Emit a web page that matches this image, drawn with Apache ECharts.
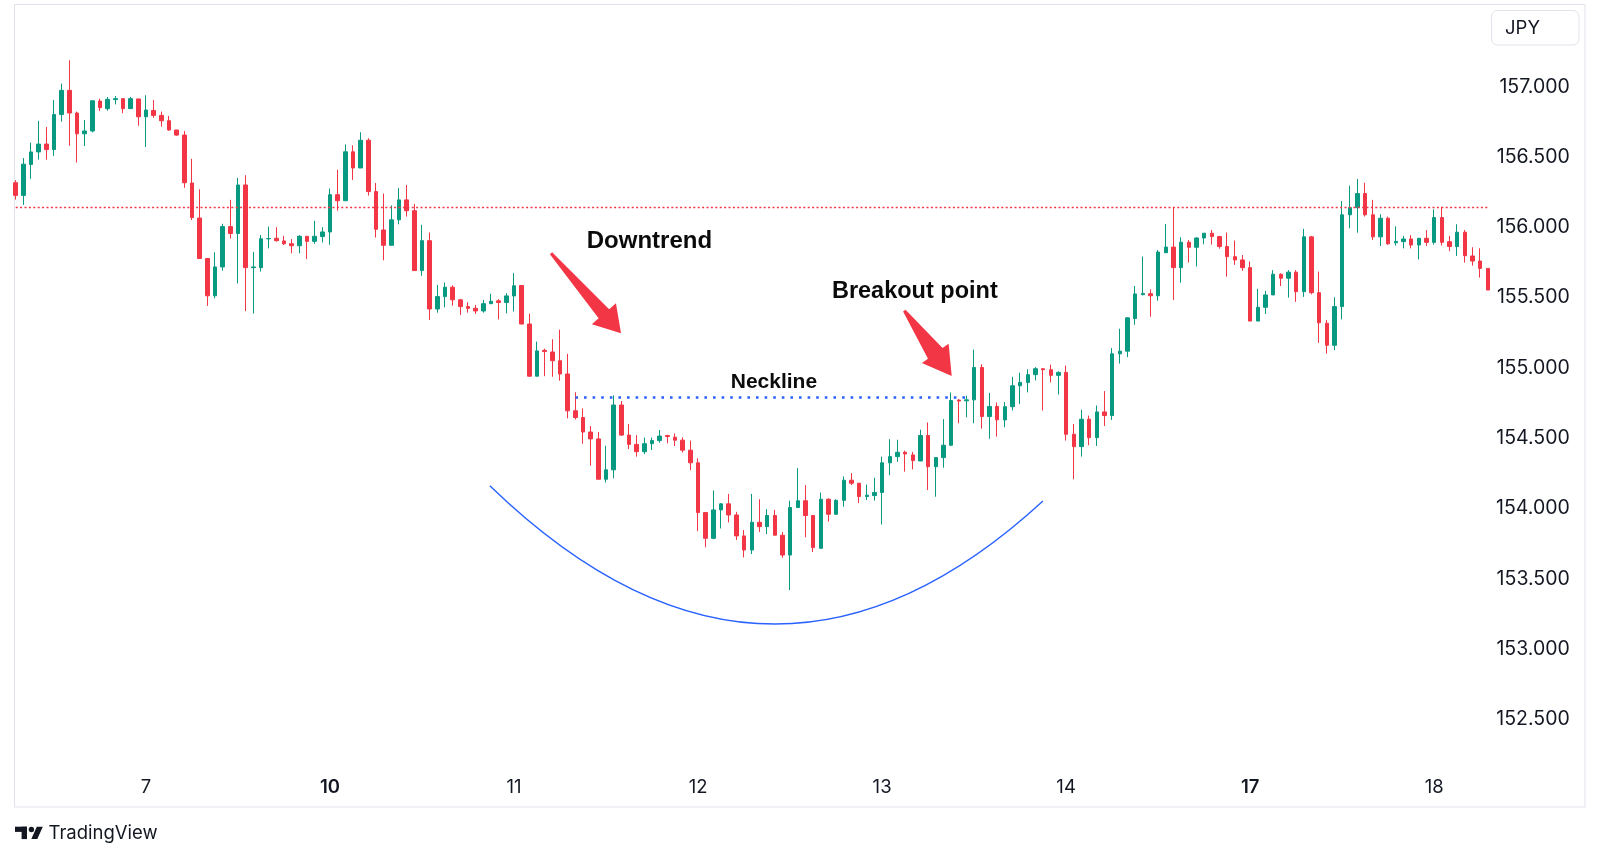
<!DOCTYPE html>
<html>
<head>
<meta charset="utf-8">
<title>JPY hourly candles – rounding bottom</title>
<script src="https://cdn.jsdelivr.net/npm/echarts@6/dist/echarts.min.js"></script>
<style>
  html, body { margin: 0; padding: 0; background: #ffffff; }
  #chart { width: 1600px; height: 859px; }
</style>
</head>
<body>
<div id="chart"></div>
<script>
// hourly candles (one value per candle)
const OPEN = [
  156.317, 156.227, 156.447, 156.536, 156.592, 156.553, 156.802, 156.974, 156.813, 156.665,
  156.685, 156.898, 156.844, 156.908, 156.915, 156.844, 156.913, 156.786, 156.831, 156.796,
  156.758, 156.692, 156.656, 156.315, 156.066, 155.778, 155.513, 155.718, 156.005, 155.956,
  156.301, 155.713, 155.713, 155.918, 155.922, 155.903, 155.883, 155.869, 155.936, 155.900,
  155.934, 155.967, 156.232, 156.189, 156.537, 156.422, 156.619, 156.254, 155.981, 155.872,
  156.053, 156.195, 156.118, 155.692, 155.905, 155.419, 155.507, 155.574, 155.484, 155.436,
  155.424, 155.405, 155.457, 155.477, 155.465, 155.512, 155.586, 155.312, 154.941, 155.125,
  155.113, 155.051, 154.957, 154.695, 154.647, 154.544, 154.495, 154.208, 154.275, 154.736,
  154.522, 154.456, 154.404, 154.461, 154.483, 154.519, 154.507, 154.486, 154.415, 154.325,
  153.971, 153.788, 153.990, 154.033, 153.954, 153.805, 153.705, 153.902, 153.871, 153.950,
  153.810, 153.669, 154.007, 154.055, 153.950, 153.717, 154.066, 153.959, 154.058, 154.201,
  154.180, 154.085, 154.092, 154.114, 154.325, 154.369, 154.400, 154.381, 154.338, 154.519,
  154.297, 154.362, 154.450, 154.771, 154.766, 154.773, 155.003, 154.654, 154.726, 154.630,
  154.724, 154.873, 154.897, 154.952, 154.994, 154.987, 154.947, 154.968, 154.528, 154.440,
  154.635, 154.504, 154.687, 154.661, 155.100, 155.119, 155.351, 155.521, 155.528, 155.513,
  155.819, 155.859, 155.713, 155.894, 155.858, 155.924, 155.958, 155.934, 155.863, 155.791,
  155.768, 155.713, 155.333, 155.431, 155.519, 155.666, 155.638, 155.681, 155.542, 155.932,
  155.535, 155.318, 155.161, 155.436, 156.089, 156.140, 156.240, 156.089, 155.932, 156.064,
  155.890, 155.898, 155.917, 155.874, 155.922, 155.893, 156.069, 155.898, 155.863, 155.965,
  155.796, 155.760, 155.708
];
const CLOSE = [
  156.227, 156.449, 156.536, 156.592, 156.553, 156.802, 156.974, 156.813, 156.665, 156.685,
  156.900, 156.851, 156.910, 156.915, 156.844, 156.915, 156.786, 156.834, 156.796, 156.758,
  156.692, 156.656, 156.317, 156.069, 155.778, 155.513, 155.718, 156.005, 155.956, 156.301,
  155.713, 155.718, 155.918, 155.920, 155.905, 155.883, 155.869, 155.936, 155.900, 155.936,
  155.967, 156.232, 156.189, 156.537, 156.422, 156.619, 156.254, 155.986, 155.872, 156.053,
  156.195, 156.118, 155.692, 155.905, 155.419, 155.507, 155.574, 155.484, 155.436, 155.424,
  155.405, 155.457, 155.474, 155.465, 155.512, 155.584, 155.312, 154.941, 155.121, 155.116,
  155.051, 154.957, 154.695, 154.647, 154.544, 154.495, 154.208, 154.275, 154.736, 154.522,
  154.456, 154.404, 154.461, 154.483, 154.515, 154.512, 154.486, 154.415, 154.325, 153.971,
  153.788, 153.990, 154.033, 153.954, 153.805, 153.705, 153.902, 153.871, 153.950, 153.810,
  153.669, 154.007, 154.055, 153.950, 153.722, 154.066, 153.959, 154.058, 154.201, 154.180,
  154.085, 154.095, 154.114, 154.325, 154.369, 154.400, 154.388, 154.341, 154.519, 154.297,
  154.362, 154.450, 154.768, 154.764, 154.773, 155.003, 154.654, 154.726, 154.631, 154.724,
  154.873, 154.897, 154.952, 154.994, 154.987, 154.947, 154.968, 154.528, 154.440, 154.635,
  154.504, 154.687, 154.661, 155.100, 155.119, 155.356, 155.526, 155.530, 155.513, 155.824,
  155.859, 155.713, 155.894, 155.858, 155.924, 155.958, 155.934, 155.863, 155.791, 155.768,
  155.713, 155.333, 155.431, 155.519, 155.666, 155.638, 155.681, 155.542, 155.932, 155.535,
  155.321, 155.161, 155.436, 156.089, 156.140, 156.240, 156.089, 155.932, 156.064, 155.883,
  155.900, 155.917, 155.874, 155.922, 155.893, 156.069, 155.893, 155.863, 155.965, 155.798,
  155.760, 155.708, 155.554
];
const LOW = [
  156.197, 156.159, 156.345, 156.481, 156.481, 156.508, 156.751, 156.580, 156.460, 156.578,
  156.675, 156.827, 156.829, 156.874, 156.811, 156.844, 156.722, 156.571, 156.779, 156.716,
  156.687, 156.651, 156.281, 156.052, 155.778, 155.441, 155.495, 155.691, 155.920, 155.601,
  155.404, 155.387, 155.685, 155.850, 155.898, 155.874, 155.815, 155.815, 155.774, 155.883,
  155.893, 155.876, 156.118, 156.189, 156.337, 156.422, 156.226, 155.927, 155.765, 155.872,
  156.021, 156.076, 155.692, 155.655, 155.341, 155.393, 155.431, 155.443, 155.376, 155.393,
  155.384, 155.393, 155.453, 155.345, 155.388, 155.401, 155.312, 154.937, 154.941, 154.941,
  154.937, 154.909, 154.641, 154.633, 154.461, 154.304, 154.208, 154.186, 154.215, 154.517,
  154.422, 154.369, 154.387, 154.416, 154.468, 154.463, 154.444, 154.399, 154.273, 153.839,
  153.724, 153.781, 153.858, 153.901, 153.776, 153.652, 153.676, 153.833, 153.818, 153.810,
  153.650, 153.420, 154.007, 153.795, 153.691, 153.717, 153.907, 153.954, 154.013, 154.167,
  154.038, 154.061, 154.056, 153.886, 154.237, 154.332, 154.262, 154.278, 154.338, 154.131,
  154.084, 154.290, 154.444, 154.606, 154.649, 154.606, 154.568, 154.496, 154.511, 154.578,
  154.697, 154.744, 154.826, 154.911, 154.697, 154.897, 154.811, 154.483, 154.208, 154.369,
  154.450, 154.445, 154.587, 154.630, 155.031, 155.076, 155.307, 155.516, 155.364, 155.478,
  155.819, 155.483, 155.606, 155.749, 155.721, 155.879, 155.877, 155.848, 155.649, 155.733,
  155.690, 155.333, 155.333, 155.384, 155.519, 155.582, 155.500, 155.470, 155.505, 155.523,
  155.178, 155.102, 155.126, 155.345, 155.993, 155.962, 156.077, 155.910, 155.867, 155.875,
  155.870, 155.850, 155.850, 155.772, 155.867, 155.877, 155.870, 155.830, 155.796, 155.749,
  155.727, 155.642, 155.554
];
const HIGH = [
  156.335, 156.492, 156.602, 156.757, 156.714, 156.905, 157.022, 157.188, 156.823, 156.763,
  156.900, 156.915, 156.927, 156.934, 156.915, 156.927, 156.913, 156.939, 156.905, 156.823,
  156.792, 156.692, 156.685, 156.487, 156.270, 155.778, 155.822, 156.025, 156.195, 156.351,
  156.370, 155.825, 155.945, 156.005, 156.001, 155.939, 155.917, 155.944, 155.936, 156.046,
  156.001, 156.275, 156.409, 156.590, 156.583, 156.676, 156.634, 156.315, 156.240, 156.156,
  156.280, 156.301, 156.166, 156.018, 155.963, 155.590, 155.607, 155.588, 155.491, 155.467,
  155.448, 155.484, 155.527, 155.489, 155.531, 155.674, 155.586, 155.385, 155.187, 155.137,
  155.204, 155.272, 155.100, 154.827, 154.712, 154.587, 154.544, 154.446, 154.805, 154.765,
  154.601, 154.522, 154.504, 154.504, 154.558, 154.524, 154.534, 154.506, 154.483, 154.357,
  153.971, 154.129, 154.038, 154.104, 153.976, 153.847, 154.104, 154.066, 153.995, 153.990,
  153.833, 154.055, 154.287, 154.166, 153.950, 154.114, 154.073, 154.066, 154.228, 154.252,
  154.180, 154.170, 154.218, 154.369, 154.493, 154.489, 154.412, 154.403, 154.560, 154.612,
  154.362, 154.636, 154.825, 154.778, 154.802, 155.129, 155.026, 154.822, 154.754, 154.757,
  154.936, 154.966, 154.990, 155.006, 154.999, 155.023, 154.976, 155.016, 154.601, 154.702,
  154.661, 154.733, 154.835, 155.141, 155.279, 155.361, 155.583, 155.792, 155.559, 155.838,
  156.024, 156.143, 155.929, 155.910, 155.929, 155.958, 155.981, 155.939, 155.963, 155.906,
  155.803, 155.757, 155.562, 155.548, 155.695, 155.673, 155.695, 155.695, 155.989, 155.939,
  155.685, 155.340, 155.502, 156.187, 156.296, 156.344, 156.317, 156.195, 156.093, 156.076,
  156.007, 155.939, 155.944, 155.922, 155.980, 156.128, 156.145, 155.939, 156.022, 155.981,
  155.858, 155.851, 155.708
];

// trading days shown on the time axis (weekends skipped), first candle at 07:00
const SESSION_DAYS = [6, 7, 10, 11, 12, 13, 14, 17, 18];
const FIRST_HOUR = 7;
const WEEK_START_DAYS = [10, 17];

// price scale
const PRICE_MIN = 152;
const PRICE_MAX = 157.5;
const PRICE_STEP = 0.5;

// drawn levels
const RESISTANCE_PRICE = 156.142;
const NECKLINE_PRICE = 154.788;
const NECKLINE_FROM = 73;
const NECKLINE_TO = 124;

// annotations, in [candle index, price]
const ARC_POINTS = [[61.84, 154.162], [98.06, 152.25], [133.98, 154.053]];
const ARROWS = [
  { tail: [69.82, 155.815], tip: [78.95, 155.246], headLen: 26, headHalf: 16, shaftHalf: 7 },
  { tail: [115.9, 155.407], tip: [122.08, 154.942], headLen: 28, headHalf: 16.5, shaftHalf: 9 },
];
const NOTES = [
  { text: "Downtrend", at: [82.65, 155.9], size: 24 },
  { text: "Breakout point", at: [117.27, 155.544], size: 23.5 },
  { text: "Neckline", at: [98.89, 154.901], size: 21 },
];

const UP = "#089981";
const DOWN = "#F23645";
const TEXT = "#131722";
const UI_FONT = "Inter, Roboto, sans-serif";

function buildCategories(count) {
  const result = [];
  SESSION_DAYS.forEach((day, i) => {
    for (let h = i === 0 ? FIRST_HOUR : 0; h < 24; h++) {
      result.push(day + " " + String(h).padStart(2, "0") + ":00");
    }
  });
  return result.slice(0, count);
}

const categories = buildCategories(CLOSE.length);
const candles = CLOSE.map((close, i) => [OPEN[i], close, LOW[i], HIGH[i]]);

const chart = echarts.init(document.getElementById("chart"));

chart.setOption({
  animation: false,
  backgroundColor: "#ffffff",
  grid: { left: 15.7, top: 16.4, width: 1472.1, height: 773.3 },
  xAxis: {
    type: "category",
    data: categories,
    boundaryGap: false,
    axisLine: { show: false },
    axisTick: { show: false },
    splitLine: { show: false },
    axisLabel: {
      interval: (index, value) => value.endsWith(" 00:00"),
      margin: -2,
      verticalAlign: "middle",
      formatter: (value) => {
        const day = Number(value.split(" ")[0]);
        return WEEK_START_DAYS.includes(day) ? "{b|" + day + "}" : "{n|" + day + "}";
      },
      rich: {
        n: { fontSize: 18.5, fontFamily: UI_FONT, color: TEXT },
        b: { fontSize: 18.5, fontFamily: UI_FONT, fontWeight: 600, color: TEXT },
      },
    },
  },
  yAxis: {
    type: "value",
    position: "right",
    min: PRICE_MIN,
    max: PRICE_MAX,
    interval: PRICE_STEP,
    axisLine: { show: false },
    axisTick: { show: false },
    splitLine: { show: false },
    axisLabel: {
      margin: 82,
      align: "right",
      color: TEXT,
      fontSize: 19.5,
      fontFamily: UI_FONT,
      formatter: (v) => (v < PRICE_MIN + 0.1 || v > PRICE_MAX - 0.1 ? "" : v.toFixed(3)),
    },
  },
  series: [
    {
      type: "candlestick",
      data: candles,
      barWidth: 4,
      itemStyle: {
        color: UP,
        color0: DOWN,
        borderColor: UP,
        borderColor0: DOWN,
        borderWidth: 1,
      },
      markLine: {
        silent: true,
        symbol: ["none", "none"],
        label: { show: false },
        data: [
          { yAxis: RESISTANCE_PRICE, lineStyle: { color: DOWN, width: 1.3, type: [2, 2.4], opacity: 1 } },
          [
            { coord: [NECKLINE_FROM, NECKLINE_PRICE], lineStyle: { color: "#2962FF", width: 2.6, type: [2.6, 6] } },
            { coord: [NECKLINE_TO, NECKLINE_PRICE] },
          ],
        ],
      },
    },
  ],
});

// index -> pixel through the axis, allowing fractional indices
function toPixel(point) {
  const last = CLOSE.length - 1;
  const a = chart.convertToPixel({ gridIndex: 0 }, [0, point[1]]);
  const b = chart.convertToPixel({ gridIndex: 0 }, [last, point[1]]);
  return [a[0] + ((b[0] - a[0]) * point[0]) / last, a[1]];
}

function arrowPolygon(arrow) {
  const t = toPixel(arrow.tail);
  const p = toPixel(arrow.tip);
  const len = Math.hypot(p[0] - t[0], p[1] - t[1]);
  const u = [(p[0] - t[0]) / len, (p[1] - t[1]) / len];
  const n = [-u[1], u[0]];
  const base = [p[0] - u[0] * arrow.headLen, p[1] - u[1] * arrow.headLen];
  const off = (pt, k) => [pt[0] + n[0] * k, pt[1] + n[1] * k];
  return [
    off(t, 1.5),
    off(base, arrow.shaftHalf),
    off(base, arrow.headHalf),
    p,
    off(base, -arrow.headHalf),
    off(base, -arrow.shaftHalf),
    off(t, -1.5),
  ];
}

const arc = ARC_POINTS.map(toPixel);
const graphics = [
  {
    type: "rect",
    silent: true,
    shape: { x: 14.5, y: 4.5, width: 1570.5, height: 802.5 },
    style: { fill: "none", stroke: "#e0e3eb", lineWidth: 1 },
  },
  {
    type: "rect",
    silent: true,
    shape: { x: 1491.5, y: 10.5, width: 87.5, height: 34.5, r: 6 },
    style: { fill: "#ffffff", stroke: "#e0e3eb", lineWidth: 1 },
  },
  {
    type: "text",
    silent: true,
    style: { text: "JPY", x: 1505, y: 28.7, fill: TEXT, font: "18.5px " + UI_FONT, verticalAlign: "middle" },
  },
  {
    type: "bezierCurve",
    silent: true,
    z: 50,
    shape: { x1: arc[0][0], y1: arc[0][1], cpx1: arc[1][0], cpy1: arc[1][1], x2: arc[2][0], y2: arc[2][1] },
    style: { fill: "none", stroke: "#2962FF", lineWidth: 1.4 },
  },
  // TradingView mark
  { type: "rect", silent: true, shape: { x: 15, y: 826.7, width: 12, height: 5.2 }, style: { fill: TEXT } },
  { type: "rect", silent: true, shape: { x: 21.6, y: 826.7, width: 5.4, height: 12.4 }, style: { fill: TEXT } },
  { type: "circle", silent: true, shape: { cx: 31.4, cy: 829.5, r: 2.7 }, style: { fill: TEXT } },
  {
    type: "polygon",
    silent: true,
    shape: { points: [[36.8, 826.7], [42.8, 826.7], [37.3, 839.1], [31.3, 839.1]] },
    style: { fill: TEXT },
  },
  {
    type: "text",
    silent: true,
    style: { text: "TradingView", x: 48.5, y: 833, fill: TEXT, font: "18.5px " + UI_FONT, verticalAlign: "middle" },
  },
];

ARROWS.forEach((arrow) => {
  graphics.push({
    type: "polygon",
    silent: true,
    z: 60,
    shape: { points: arrowPolygon(arrow) },
    style: { fill: DOWN },
  });
});

NOTES.forEach((note) => {
  const pos = toPixel(note.at);
  graphics.push({
    type: "text",
    silent: true,
    z: 70,
    style: {
      text: note.text,
      x: pos[0],
      y: pos[1],
      fill: "#0b0b0b",
      font: "bold " + note.size + "px 'Liberation Sans', Arial, sans-serif",
      align: "center",
      verticalAlign: "middle",
    },
  });
});

chart.setOption({ graphic: graphics });
</script>
</body>
</html>
